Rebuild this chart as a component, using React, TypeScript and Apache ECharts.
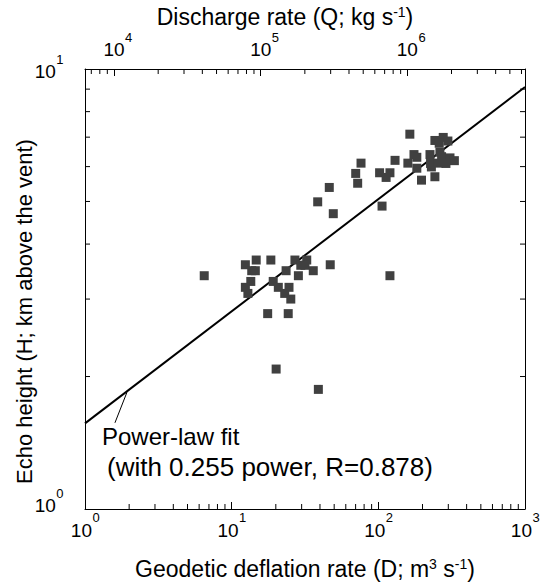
import React, { useEffect, useRef } from 'react';
import * as echarts from 'echarts';

// Geodetic deflation rate D (m^3/s) and echo height H (km above the vent)
const deflation = [6.5, 14.7, 12.4, 13.7, 14.5, 18.5, 27.0, 32.5, 29.6, 31.6, 47.0, 36.0, 23.5, 28.5, 13.5, 12.4, 12.9, 19.2, 20.8, 24.6, 23.0, 25.3, 17.6, 24.3, 20.1, 39.0, 120, 46.3, 38.6, 49.3, 70.1, 72.3, 76.2, 106, 164, 243, 277, 298, 260, 130, 175, 183, 225, 263, 270, 308, 330, 289, 159, 183, 227, 230, 256, 102, 120, 113, 197, 243];
const height = [3.39, 3.68, 3.59, 3.48, 3.48, 3.68, 3.68, 3.68, 3.58, 3.58, 3.59, 3.48, 3.48, 3.39, 3.29, 3.19, 3.09, 3.29, 3.19, 3.19, 3.09, 3.0, 2.78, 2.78, 2.08, 1.87, 3.39, 5.38, 4.99, 4.69, 5.79, 5.5, 6.11, 4.88, 7.11, 6.88, 6.99, 6.86, 6.78, 6.2, 6.39, 6.3, 6.39, 6.47, 6.32, 6.28, 6.19, 6.1, 6.11, 5.95, 6.1, 5.99, 6.11, 5.81, 5.81, 5.67, 5.59, 5.69];

// power-law fit end points
const fitD = [1, 1000];
const fitH = [1.565, 9.1];
// leader line of the annotation
const leaderD = [1.6, 1.93];
const leaderH = [1.57, 1.84];

// axis ranges
const dRange = [1, 1000];
const hRange = [1, 10];
const qRange = [6340, 6340000];

// major tick labels (powers of ten)
const dTicks = [1, 10, 100, 1000];
const hTicks = [1, 10];
const qTicks = [10000, 100000, 1000000];

// minor ticks
const dMinor = [2, 3, 4, 5, 6, 7, 8, 9, 20, 30, 40, 50, 60, 70, 80, 90, 200, 300, 400, 500, 600, 700, 800, 900];
const hMinor = [2, 3, 4, 5, 6, 7, 8, 9];
const qMinor = [7000, 8000, 9000, 20000, 30000, 40000, 50000, 60000, 70000, 80000, 90000, 200000, 300000, 400000, 500000, 600000, 700000, 800000, 900000, 2000000, 3000000, 4000000, 5000000, 6000000];

const FONT = '"Liberation Sans", Arial, Helvetica, sans-serif';
const BASE_SIZE = 19;
const SUP_SIZE = 13;
const BASE_W = BASE_SIZE * 1.112; // width of "10"
const SUP_W = SUP_SIZE * 0.556; // width of one digit

const nameRich = {
  a: { fontSize: 23, lineHeight: 23, verticalAlign: 'bottom', fontFamily: FONT, color: '#000' },
  s: { fontSize: 14, lineHeight: 14, verticalAlign: 'bottom', padding: [0, 0, 9, 0], fontFamily: FONT, color: '#000' },
};

const minorTickSeries = (data: number[][], xAxisIndex: number, yAxisIndex: number, dx: number, dy: number) => ({
  type: 'custom',
  xAxisIndex,
  yAxisIndex,
  silent: true,
  clip: false,
  z: 5,
  data,
  renderItem: (_params: any, api: any) => {
    const p = api.coord([api.value(0), api.value(1)]);
    return {
      type: 'line',
      shape: { x1: p[0], y1: p[1], x2: p[0] + dx, y2: p[1] + dy },
      style: { stroke: '#000', lineWidth: 1 },
    };
  },
});

const txt = (text: string, x: number, y: number, size: number, align = 'left') => ({
  type: 'text',
  x,
  y,
  silent: true,
  style: { text, fontSize: size, fontFamily: FONT, fill: '#000', align, verticalAlign: 'middle' },
});

// "10" followed by a raised exponent; (left, baseCenterY) of the "10"
const powerLabel = (v: number, left: number, cy: number) => [
  txt('10', left, cy, BASE_SIZE),
  txt(String(Math.round(Math.log10(v))), left + BASE_W + 0.5, cy - 12.3, SUP_SIZE),
];

export default function App() {
  const ref = useRef<HTMLDivElement>(null);
  useEffect(() => {
    if (!ref.current) return;
    const chart = echarts.init(ref.current, null, { renderer: 'svg' });
    const axisLine = { show: true, lineStyle: { color: '#000', width: 1 } };
    const majorTick = { show: true, inside: true, length: 7, lineStyle: { color: '#000' } };
    const option: any = {
      animation: false,
      backgroundColor: '#fff',
      textStyle: { fontFamily: FONT },
      grid: { left: 85, top: 69, width: 440, height: 440, containLabel: false, outerBoundsMode: 'none' },
      xAxis: [
        {
          type: 'log',
          logBase: 10,
          min: dRange[0],
          max: dRange[1],
          position: 'bottom',
          axisLine,
          axisTick: majorTick,
          axisLabel: { show: false },
          splitLine: { show: false },
          name: '{a|Geodetic deflation rate (D; m}{s|3}{a| s}{s|-1}{a|)}',
          nameLocation: 'middle',
          nameGap: 48,
          nameTextStyle: { fontSize: 23, fontFamily: FONT, color: '#000', rich: nameRich },
        },
        {
          type: 'log',
          logBase: 10,
          min: qRange[0],
          max: qRange[1],
          position: 'top',
          axisLine,
          axisTick: majorTick,
          axisLabel: { show: false },
          splitLine: { show: false },
          name: '{a|Discharge rate (Q; kg s}{s|-1}{a|)}',
          nameLocation: 'middle',
          nameGap: 41,
          nameTextStyle: { fontSize: 23, fontFamily: FONT, color: '#000', rich: nameRich, padding: [0, 40, 0, 0] },
        },
      ],
      yAxis: [
        {
          type: 'log',
          logBase: 10,
          min: hRange[0],
          max: hRange[1],
          position: 'left',
          axisLine,
          axisTick: majorTick,
          axisLabel: { show: false },
          splitLine: { show: false },
          name: 'Echo height (H; km above the vent)',
          nameLocation: 'middle',
          nameGap: 50,
          nameTextStyle: { fontSize: 22, fontFamily: FONT, color: '#000', padding: [0, 45, 0, 0] },
        },
        {
          type: 'log',
          logBase: 10,
          min: hRange[0],
          max: hRange[1],
          position: 'right',
          axisLine,
          axisTick: { show: false },
          axisLabel: { show: false },
          splitLine: { show: false },
        },
      ],
      series: [
        {
          type: 'line',
          data: fitD.map((d, i) => [d, fitH[i]]),
          showSymbol: false,
          symbol: 'none',
          lineStyle: { color: '#000', width: 2 },
          z: 3,
        },
        {
          type: 'line',
          data: leaderD.map((d, i) => [d, leaderH[i]]),
          showSymbol: false,
          symbol: 'none',
          lineStyle: { color: '#000', width: 1 },
        },
        {
          type: 'scatter',
          data: deflation.map((d, i) => [d, height[i]]),
          symbol: 'rect',
          symbolSize: 9,
          itemStyle: { color: '#404040', opacity: 1 },
          z: 4,
        },
        minorTickSeries(dMinor.map((v) => [v, hRange[0]]), 0, 0, 0, -5),
        minorTickSeries(qMinor.map((v) => [v, hRange[1]]), 1, 0, 0, 5),
        minorTickSeries(hMinor.map((v) => [dRange[0], v]), 0, 0, 5, 0),
        minorTickSeries(hMinor.map((v) => [dRange[1], v]), 0, 0, -5, 0),
      ],
    };
    chart.setOption(option);

    // tick labels placed through the axes' own scales
    const xPix = (idx: number, v: number) => chart.convertToPixel({ xAxisIndex: idx } as any, v) as unknown as number;
    const yPix = (v: number) => chart.convertToPixel({ yAxisIndex: 0 } as any, v) as unknown as number;
    const yBottom = yPix(hRange[0]);
    const yTop = yPix(hRange[1]);
    const xLeft = xPix(0, dRange[0]);
    const graphic: any[] = [
      // bottom: whole label centred on the tick
      ...dTicks.flatMap((v) => powerLabel(v, xPix(0, v) - (BASE_W + SUP_W) / 2, yBottom + 21)),
      // top: the "10" centred on the tick
      ...qTicks.flatMap((v) => powerLabel(v, xPix(1, v) - BASE_W / 2, yTop - 19.5)),
      // left: right aligned
      ...hTicks.flatMap((v) => powerLabel(v, xLeft - 22 - SUP_W - BASE_W, yPix(v) + (v === hRange[1] ? 2.5 : -3.5))),
      txt('Power-law fit', 102, 436, 24),
      txt('(with 0.255 power, R=0.878)', 107, 467, 26),
    ];
    chart.setOption({ graphic });
    return () => chart.dispose();
  }, []);
  return (
    <div
      ref={ref}
      style={{ position: 'fixed', left: 0, top: 0, width: 552, height: 585, background: '#fff' }}
    />
  );
}
